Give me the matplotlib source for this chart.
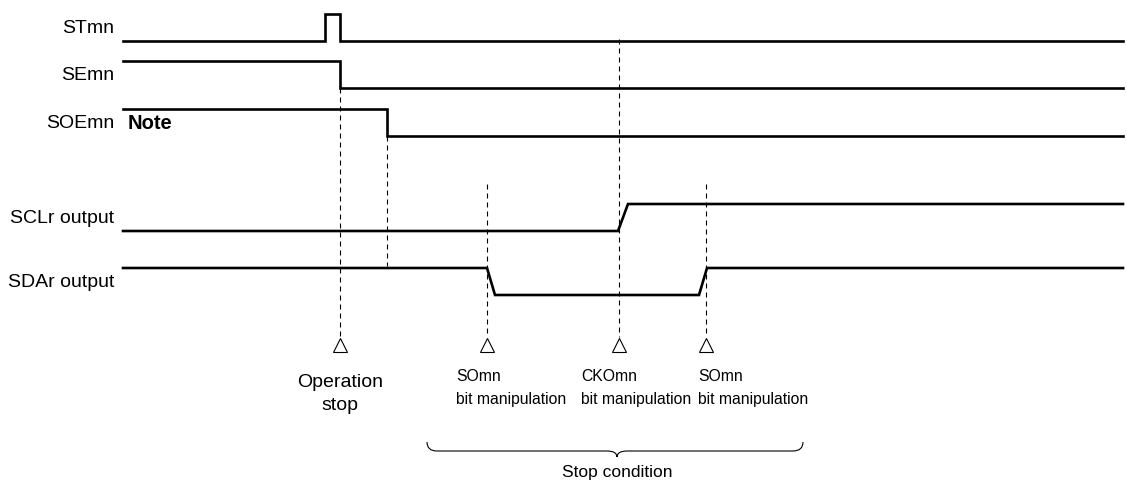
import matplotlib.pyplot as plt
from matplotlib.path import Path
from matplotlib.patches import PathPatch

#--------------------------------waveform data (time units along the diagram)--------------------------------
row_names = ['STmn', 'SEmn', 'SOEmn', 'SCLr output', 'SDAr output']

st_x = [123, 325, 325, 340, 340, 1123]
st_lvl = [0, 0, 1, 1, 0, 0]

se_x = [123, 340, 340, 1123]
se_lvl = [1, 1, 0, 0]

soe_x = [123, 387, 387, 1123]
soe_lvl = [1, 1, 0, 0]

scl_x = [123, 618, 628, 1123]
scl_lvl = [0, 0, 1, 1]

sda_x = [123, 487, 495, 699, 707, 1123]
sda_lvl = [1, 1, 0, 0, 1, 1]

waves = [(st_x, st_lvl), (se_x, se_lvl), (soe_x, soe_lvl), (scl_x, scl_lvl), (sda_x, sda_lvl)]

# timing events (triangles) and their labels
event_x = [340, 487, 619, 706]
event_top_row = [1, 3, 0, 3]        # row where the dashed guide starts
event_labels = ['Operation\nstop', 'SOmn\nbit manipulation', 'CKOmn\nbit manipulation', 'SOmn\nbit manipulation']

# extra guide from SOEmn fall down to SDAr
soe_guide_x = 387

brace_range = [427, 803]
brace_label = 'Stop condition'

#--------------------------------layout--------------------------------
row_low = [42, 89, 137, 232, 296]   # y of the low level in each row
amp = 27
label_x = 114
guide_bottom = 338
tri_y = 346
bit_label_left = [456, 581, 698]

def lvl_to_y(row, lvls):
    return [row_low[row] - amp * v for v in lvls]

DPI = 100
fig = plt.figure(figsize=(1127 / DPI, 481 / DPI), dpi=DPI)
ax = fig.add_axes([0, 0, 1, 1])
ax.set_xlim(0, 1127)
ax.set_ylim(481, 0)
ax.axis('off')

font = ['Liberation Sans', 'DejaVu Sans']

# signals
for i, (xs, lv) in enumerate(waves):
    ax.plot(xs, lvl_to_y(i, lv), color='k', lw=1.9, solid_joinstyle='miter', zorder=3)
    ax.text(label_x, row_low[i] - amp / 2, row_names[i], ha='right', va='center',
            fontsize=14, family=font)

ax.text(128, row_low[2] - amp / 2, 'Note', ha='left', va='center', fontsize=14.5,
        fontweight='bold', family=font)

# dashed guides
for x, r in zip(event_x, event_top_row):
    top = row_low[r] if r != 3 else row_low[r] - amp - 20
    if r == 0:
        top = row_low[0] - 2
    ax.plot([x, x], [top, guide_bottom], color='k', lw=0.8, dashes=(4.5, 3.6), zorder=2)
ax.plot([soe_guide_x, soe_guide_x], [row_low[2], row_low[4] - amp - 2], color='k', lw=0.8,
        dashes=(4.5, 3.6), zorder=2)

# triangles
ax.plot(event_x, [tri_y] * len(event_x), linestyle='none', marker='^', ms=10,
        mfc='white', mec='k', mew=0.8, zorder=4)

# event labels
ax.text(event_x[0], 394, event_labels[0], ha='center', va='center', fontsize=14,
        family=font, linespacing=1.45)
for x, lab in zip(bit_label_left, event_labels[1:]):
    ax.text(x, 388, lab, ha='left', va='center', fontsize=11.3, family=font,
            linespacing=1.7)

# brace
x0, x1 = brace_range
xm = (x0 + x1) / 2 + 2
y_end, y_flat, y_tip = 443, 452, 458
verts = [(x0, y_end), (x0, y_flat), (x0 + 10, y_flat),
         (xm - 10, y_flat), (xm, y_flat), (xm, y_tip),
         (xm, y_flat), (xm + 10, y_flat),
         (x1 - 10, y_flat), (x1, y_flat), (x1, y_end)]
codes = [Path.MOVETO, Path.CURVE3, Path.CURVE3,
         Path.LINETO, Path.CURVE3, Path.CURVE3,
         Path.CURVE3, Path.CURVE3,
         Path.LINETO, Path.CURVE3, Path.CURVE3]
ax.add_patch(PathPatch(Path(verts, codes), facecolor='none', edgecolor='k', lw=0.8))
ax.text(xm, 473, brace_label, ha='center', va='center', fontsize=12.5, family=font)

plt.savefig('out.png', dpi=DPI)
